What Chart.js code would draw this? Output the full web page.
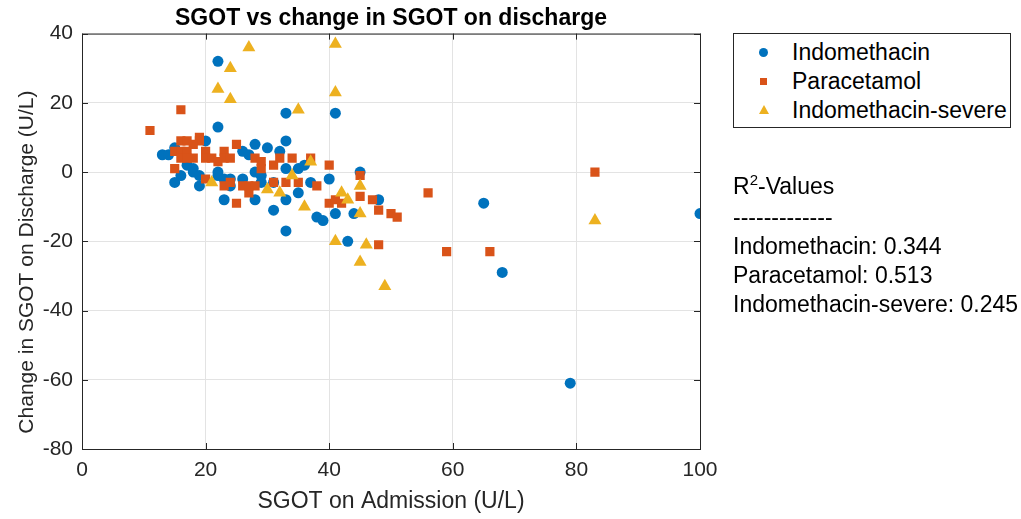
<!DOCTYPE html>
<html>
<head>
<meta charset="utf-8">
<script src="https://cdn.jsdelivr.net/npm/chart.js@4.4.1/dist/chart.umd.min.js"></script>
<style>
  body { margin: 0; background: #fff; }
  #wrap { position: relative; width: 1021px; height: 519px; font-family: "Liberation Sans", Arial, sans-serif; }
  #legend {
    position: absolute; left: 733px; top: 33px; width: 276px; height: 93px;
    border: 1px solid #262626; background: #fff;
  }
  #legend .row { position: absolute; left: 0; height: 29px; line-height: 29px; font-size: 23px; color: #000; padding-left: 58px; white-space: nowrap; }
  #legend .mk { position: absolute; }
  .circ { width: 9px; height: 9px; border-radius: 50%; background: #0072BD; left: 25px; top: 10px; }
  .sq { width: 7px; height: 7px; background: #D95319; left: 26px; top: 11px; }
  .tri { width: 0; height: 0; border-left: 5px solid transparent; border-right: 5px solid transparent; border-bottom: 9px solid #EDB120; left: 25px; top: 9px; }
  #r2 { position: absolute; left: 733px; top: 172px; font-size: 23px; line-height: 29px; color: #000; white-space: nowrap; }
  #r2 .sup { font-size: 15px; position: relative; top: -9px; }
</style>
</head>
<body>
<div id="wrap">
  <canvas id="chart" width="1021" height="519"></canvas>
  <div id="legend">
    <div class="row" style="top:4px"><span class="mk circ"></span>Indomethacin</div>
    <div class="row" style="top:33px"><span class="mk sq"></span>Paracetamol</div>
    <div class="row" style="top:62px"><span class="mk tri"></span>Indomethacin-severe</div>
  </div>
  <div id="r2">
    <div>R<span class="sup">2</span>-Values</div>
    <div>-------------</div>
    <div>Indomethacin: 0.344</div>
    <div>Paracetamol: 0.513</div>
    <div>Indomethacin-severe: 0.245</div>
  </div>
</div>
<script>
// SGOT on admission (x) vs change on discharge (y)
const indomethacin = [
  [13,5],[14,5],[15,7],[15,-3],[16,-1],[17,2],[18,1],[18,0],[19,-4],[19,-1],[20,9],
  [22,32],[22,13],[22,0],[22,-1],[23,-2],[23,-8],[24,-2],[24,-4],[26,-2],[26,6],[27,5],
  [28,8],[28,0],[28,-8],[29,-1],[29,-3],[30,7],[31,-3],[31,-11],[32,6],[33,17],[33,9],
  [33,1],[33,-8],[33,-17],[35,1],[35,-6],[36,2],[37,-3],[38,-13],[39,-14],[40,-2],
  [41,17],[41,-12],[43,-20],[44,-12],[45,0],[48,-8],[65,-9],[68,-29],[79,-61],[100,-12]
];
const paracetamol = [
  [11,12],[16,18],[15,6],[16,6],[17,6],[16,9],[17,9],[19,10],[19,9],[18,8],[16,4],[17,4],
  [18,4],[20,6],[20,4],[15,1],[20,-2],[21,4],[22,3],[23,6],[23,4],[24,4],[23,-4],[24,-3],
  [25,8],[25,-9],[26,-4],[27,-4],[28,-4],[27,-6],[28,4],[29,3],[29,1],[31,2],[32,4],[34,4],
  [31,-3],[33,-3],[35,-3],[37,4],[38,-4],[40,2],[40,-9],[41,-8],[42,-9],[45,-1],[45,-7],
  [47,-8],[48,-11],[48,-21],[50,-12],[51,-13],[56,-6],[59,-23],[66,-23],[83,0]
];
const indoSevere = [
  [22,24],[24,30],[24,21],[27,36],[41,37],[41,23],[35,18],
  [21,-3],[30,-5],[32,-6],[34,-1],[36,-10],[37,3],[42,-6],[43,-8],[45,-4],[45,-12],
  [41,-20],[46,-21],[45,-26],[49,-33],[83,-14]
];
const xTicks = [0, 20, 40, 60, 80, 100];
const yTicks = [-80, -60, -40, -20, 0, 20, 40];
const yLabel = 'Change in SGOT on Discharge (U/L)';

const toPts = arr => arr.map(p => ({ x: p[0], y: p[1] }));
const FONT = '"Liberation Sans", Arial, sans-serif';
const AXIS = '#262626';

// box round the axes with small inward ticks, like the original
const boxPlugin = {
  id: 'box',
  beforeDatasetsDraw(chart) {
    const { ctx, chartArea: a, scales } = chart;
    ctx.save();
    ctx.strokeStyle = AXIS;
    ctx.lineWidth = 1;
    ctx.strokeRect(a.left + 0.5, a.top + 0.5, a.right - a.left, a.bottom - a.top);
    ctx.beginPath();
    xTicks.forEach(v => {
      const px = Math.round(scales.x.getPixelForValue(v)) + 0.5;
      ctx.moveTo(px, a.bottom); ctx.lineTo(px, a.bottom - 6);
      ctx.moveTo(px, a.top); ctx.lineTo(px, a.top + 6);
    });
    yTicks.forEach(v => {
      const py = Math.round(scales.y.getPixelForValue(v)) + 0.5;
      ctx.moveTo(a.left, py); ctx.lineTo(a.left + 6, py);
      ctx.moveTo(a.right, py); ctx.lineTo(a.right - 6, py);
    });
    ctx.stroke();
    // y label sits a bit below the axis centre in the original
    ctx.translate(27, chart.chartArea.top + (a.bottom - a.top) * 0.55);
    ctx.rotate(-Math.PI / 2);
    ctx.fillStyle = AXIS;
    ctx.font = '21px ' + FONT;
    ctx.textAlign = 'center';
    ctx.textBaseline = 'middle';
    ctx.fillText(yLabel, 0, 0);
    ctx.restore();
  }
};

new Chart(document.getElementById('chart'), {
  type: 'scatter',
  data: {
    datasets: [
      { label: 'Indomethacin', data: toPts(indomethacin), pointStyle: 'circle', pointRadius: 5.5,
        backgroundColor: '#0072BD', borderColor: '#0072BD', borderWidth: 0, order: 3 },
      { label: 'Paracetamol', data: toPts(paracetamol), pointStyle: 'rect', pointRadius: 6.5,
        backgroundColor: '#D95319', borderColor: '#D95319', borderWidth: 0, order: 2 },
      { label: 'Indomethacin-severe', data: toPts(indoSevere), pointStyle: 'triangle', pointRadius: 7.5,
        backgroundColor: '#EDB120', borderColor: '#EDB120', borderWidth: 0, order: 1 }
    ]
  },
  options: {
    responsive: false,
    animation: false,
    devicePixelRatio: 1,
    layout: { padding: { left: 0, right: 321, top: 0, bottom: 0 } },
    scales: {
      x: {
        type: 'linear', min: 0, max: 100,
        afterFit: s => { s.height = 70; },
        afterBuildTicks: s => { s.ticks = xTicks.map(v => ({ value: v })); },
        grid: { color: '#e3e3e3', drawTicks: false },
        border: { display: false },
        ticks: { padding: 9, color: AXIS, font: { family: FONT, size: 21 } },
        title: { display: true, text: 'SGOT on Admission (U/L)', color: AXIS,
                 font: { family: FONT, size: 23 }, padding: { top: 0, bottom: 4 } }
      },
      y: {
        type: 'linear', min: -80, max: 40,
        afterFit: s => { s.width = 82; },
        afterBuildTicks: s => { s.ticks = yTicks.map(v => ({ value: v })); },
        grid: { color: '#e3e3e3', drawTicks: false },
        border: { display: false },
        ticks: { padding: 9, color: AXIS, font: { family: FONT, size: 21 } }
      }
    },
    plugins: {
      legend: { display: false },
      tooltip: { enabled: false },
      title: {
        display: true, fullSize: false,
        text: 'SGOT vs change in SGOT on discharge',
        color: '#000',
        font: { family: FONT, size: 23, weight: 'bold' },
        padding: { top: 5, bottom: 1 }
      }
    }
  },
  plugins: [boxPlugin]
});
</script>
</body>
</html>
